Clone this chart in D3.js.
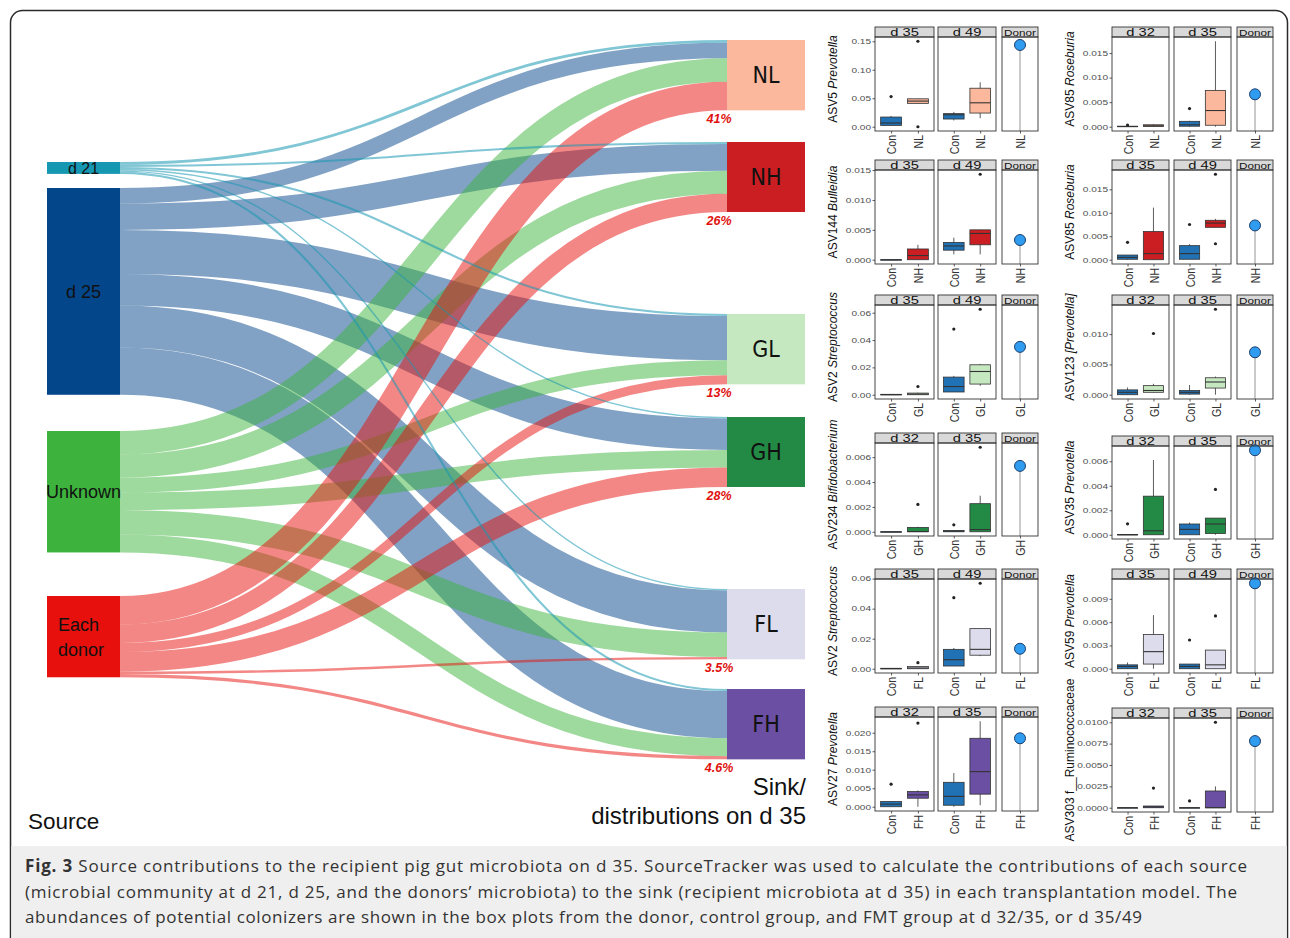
<!DOCTYPE html>
<html>
<head>
<meta charset="utf-8">
<script src="https://cdn.jsdelivr.net/npm/d3@7"></script>
<style>
  html, body { margin: 0; padding: 0; background: #fff; }
  svg { display: block; }
</style>
</head>
<body>
<svg id="fig" width="1290" height="938"></svg>
<script>
// ---------- Sankey: share (%) of each sink community contributed by each source ----------
const sources = ["d 21", "d 25", "Unknown", "Each donor"];
const sourceLabelLines = [["d 21"], ["d 25"], ["Unknown"], ["Each", "donor"]];
const sinks = ["NL", "NH", "GL", "GH", "FL", "FH"];
const sourceColors = ["#1798b2", "#03468a", "#3db33d", "#e8100c"];
const sinkColors = ["#fbb89c", "#cb1e22", "#c6e8c0", "#238a46", "#dcdcec", "#6a4fa3"];
const conColor = "#2171b5";

// columns follow the sink order NL, NH, GL, GH, FL, FH
const fromD21 = [4, 3, 3, 2, 2, 3];
const fromD25 = [22, 38, 63, 45, 60, 67.4];
const fromUnknown = [33.5, 33, 21.5, 25, 35, 25.5];
const fromDonor = [41, 26, 13, 28, 3.5, 4.6];
const contributions = [fromD21, fromD25, fromUnknown, fromDonor];

// ---------- Box plots of candidate colonizers ----------
// each box: [lower whisker, Q1, median, Q3, upper whisker, [outliers]]
const asv5NL = {
  label: "ASV5 ", taxon: "Prevotella", italic: true, group: "NL", days: ["d 35", "d 49"],
  ticks: [0, 0.05, 0.10, 0.15], format: ".2f",
  con: [[0.002, 0.0023, 0.0065, 0.017, 0.019, [0.053]], [0.011, 0.0135, 0.021, 0.023, 0.026, []]],
  fmt: [[0.041, 0.041, 0.045, 0.049, 0.049, [0.15, 0]], [0.015, 0.024, 0.042, 0.0676, 0.078, []]],
  donor: 0.1435
};
const asv85NL = {
  label: "ASV85 ", taxon: "Roseburia", italic: true, group: "NL", days: ["d 32", "d 35"],
  ticks: [0, 0.005, 0.010, 0.015], format: ".3f",
  con: [[0, 0, 0.00005, 0.0001, 0.0002, [0.00035]], [0, 0.0001, 0.0004, 0.0011, 0.0012, [0.0037]]],
  fmt: [[0, 0.00005, 0.0002, 0.0004, 0.0005, []], [0, 0.0003, 0.0033, 0.0074, 0.0174, []]],
  donor: 0.0066
};
const asv144NH = {
  label: "ASV144 ", taxon: "Bulleidia", italic: true, group: "NH", days: ["d 35", "d 49"],
  ticks: [0, 0.005, 0.010, 0.015], format: ".3f",
  con: [[0, 0, 0, 0, 0, []], [0.0009, 0.0016, 0.0023, 0.0029, 0.0037, []]],
  fmt: [[0, 0, 0.0007, 0.0018, 0.0025, []], [0.0009, 0.0025, 0.0044, 0.005, 0.005, [0.0143]]],
  donor: 0.0033
};
const asv85NH = {
  label: "ASV85 ", taxon: "Roseburia", italic: true, group: "NH", days: ["d 35", "d 49"],
  ticks: [0, 0.005, 0.010, 0.015], format: ".3f",
  con: [[0, 0.0001, 0.0005, 0.001, 0.001, [0.0037]], [0.0001, 0.0001, 0.0013, 0.003, 0.0033, [0.0075]]],
  fmt: [[0, 0, 0.0013, 0.006, 0.0111, []], [0.0069, 0.0069, 0.0078, 0.0084, 0.0087, [0.0182, 0.0034]]],
  donor: 0.0073
};
const asv2GL = {
  label: "ASV2 ", taxon: "Streptococcus", italic: true, group: "GL", days: ["d 35", "d 49"],
  ticks: [0, 0.02, 0.04, 0.06], format: ".2f",
  con: [[0, 0, 0, 0.0003, 0.0003, []], [0.002, 0.002, 0.006, 0.0129, 0.0138, [0.048]]],
  fmt: [[0, 0, 0.0005, 0.0012, 0.0015, [0.006]], [0.0065, 0.0078, 0.017, 0.0219, 0.0225, [0.0625]]],
  donor: 0.035
};
const asv123GL = {
  label: "ASV123 ", taxon: "[Prevotella]", italic: true, group: "GL", days: ["d 32", "d 35"],
  ticks: [0, 0.005, 0.010], format: ".3f",
  con: [[0, 0, 0.0004, 0.0008, 0.0012, []], [0, 0.0001, 0.0004, 0.0007, 0.0016, []]],
  fmt: [[0.0004, 0.0004, 0.0007, 0.0015, 0.0018, [0.0101]], [0, 0.0011, 0.0021, 0.0028, 0.003, [0.0141]]],
  donor: 0.007
};
const asv234GH = {
  label: "ASV234 ", taxon: "Bifidobacterium", italic: true, group: "GH", days: ["d 32", "d 35"],
  ticks: [0, 0.002, 0.004, 0.006], format: ".3f",
  con: [[0, 0, 0, 0, 0, []], [0, 0, 0.00005, 0.0001, 0.0001, [0.00056]]],
  fmt: [[0, 0, 0.00002, 0.00035, 0.0004, [0.0022]], [0, 0, 0.00018, 0.00226, 0.0029, [0.0068]]],
  donor: 0.0053
};
const asv35GH = {
  label: "ASV35 ", taxon: "Prevotella", italic: true, group: "GH", days: ["d 32", "d 35"],
  ticks: [0, 0.002, 0.004, 0.006], format: ".3f",
  con: [[0, 0, 0, 0.00003, 0.00005, [0.00089]], [0, 0, 0.00044, 0.00088, 0.001, []]],
  fmt: [[0, 0, 0.00033, 0.00315, 0.0061, []], [0, 0.0001, 0.00088, 0.00136, 0.00136, [0.0037]]],
  donor: 0.0069
};
const asv2FL = {
  label: "ASV2 ", taxon: "Streptococcus", italic: true, group: "FL", days: ["d 35", "d 49"],
  ticks: [0, 0.02, 0.04, 0.06], format: ".2f",
  con: [[0, 0, 0, 0.0003, 0.0003, []], [0.0018, 0.0018, 0.006, 0.0129, 0.0138, [0.0473]]],
  fmt: [[0, 0, 0.0005, 0.0015, 0.0015, [0.004]], [0.0084, 0.009, 0.0129, 0.0267, 0.0267, [0.0569]]],
  donor: 0.0133
};
const asv59FL = {
  label: "ASV59 ", taxon: "Prevotella", italic: true, group: "FL", days: ["d 35", "d 49"],
  ticks: [0, 0.003, 0.006, 0.009], format: ".3f",
  con: [[0, 0, 0.0003, 0.0005, 0.0008, []], [0, 0, 0.0003, 0.0006, 0.0006, [0.0037]]],
  fmt: [[0, 0.0006, 0.0022, 0.0044, 0.0069, []], [0, 0, 0.0005, 0.0024, 0.0024, [0.0068]]],
  donor: 0.011
};
const asv27FH = {
  label: "ASV27 ", taxon: "Prevotella", italic: true, group: "FH", days: ["d 32", "d 35"],
  ticks: [0, 0.005, 0.010, 0.015, 0.020], format: ".3f",
  con: [[0, 0, 0.0007, 0.0014, 0.0014, [0.0061]], [0, 0.0004, 0.0028, 0.0066, 0.0091, []]],
  fmt: [[0, 0.0023, 0.0032, 0.0041, 0.0044, [0.0226]], [0.0004, 0.0034, 0.0095, 0.0185, 0.0231, []]],
  donor: 0.0185
};
const asv303FH = {
  label: "ASV303 ", taxon: "f__Ruminococcaceae", italic: false, group: "FH", days: ["d 32", "d 35"],
  ticks: [0, 0.0025, 0.0050, 0.0075, 0.0100], format: ".4f",
  con: [[0, 0, 0, 0, 0, []], [0, 0, 0, 0, 0, [0.0008]]],
  fmt: [[0, 0, 0.0001, 0.0002, 0.0002, [0.0023]], [0, 0, 0, 0.00196, 0.0025, [0.01]]],
  donor: 0.0078
};
const panels = [asv5NL, asv85NL, asv144NH, asv85NH, asv2GL, asv123GL,
                asv234GH, asv35GH, asv2FL, asv59FL, asv27FH, asv303FH];

const captionLines = [
  ["Fig. 3", " Source contributions to the recipient pig gut microbiota on d 35. SourceTracker was used to calculate the contributions of each source"],
  ["", "(microbial community at d 21, d 25, and the donors\u2019 microbiota) to the sink (recipient microbiota at d 35) in each transplantation model. The"],
  ["", "abundances of potential colonizers are shown in the box plots from the donor, control group, and FMT group at d 32/35, or d 35/49"]
];

// ---------- drawing ----------
const svg = d3.select("#fig");
const SANS = "'Liberation Sans', Arial, sans-serif";
const NARROW = "'Liberation Sans Narrow', 'DejaVu Sans Condensed', 'Liberation Sans', sans-serif";
const WIDEN = 1.4; // box-plot lettering is set wide

// figure frame and caption band
svg.append("rect").attr("x", 10.5).attr("y", 10.5).attr("width", 1277).attr("height", 960)
  .attr("rx", 12).attr("fill", "#fff").attr("stroke", "#2a2a2a").attr("stroke-width", 1.5);
svg.append("rect").attr("x", 11.3).attr("y", 846).attr("width", 1275.4).attr("height", 100)
  .attr("fill", "#efefef");

// ----- Sankey -----
const flow = d3.scaleLinear().domain([0, 100]).range([0, 70]);
const srcX = [47, 120];
const sinkX = [727, 805];
const srcTop = [162, 188, 431, 596];
const sinkTop = [40, 142, 314, 417, 589, 689];

const links = [];
contributions.forEach((row, i) => {
  let srcOff = 0;
  row.forEach((v, j) => {
    const sinkOff = d3.sum(contributions.slice(0, i), r => r[j]);
    links.push({
      i, j, v,
      source: [srcX[1], srcTop[i] + flow(srcOff + v / 2)],
      target: [sinkX[0], sinkTop[j] + flow(sinkOff + v / 2)]
    });
    srcOff += v;
  });
});

const linkGen = d3.linkHorizontal();
const drawOrder = [1, 2, 3, 0];
const gLinks = svg.append("g").attr("fill", "none");
drawOrder.forEach(i => {
  gLinks.selectAll(null).data(links.filter(l => l.i === i)).join("path")
    .attr("d", d => linkGen(d))
    .attr("stroke", sourceColors[i])
    .attr("stroke-opacity", i === 0 ? 0.55 : 0.5)
    .attr("stroke-width", d => Math.max(0.8, flow(d.v)));
});

// source nodes
sources.forEach((s, i) => {
  const h = flow(d3.sum(contributions[i]));
  svg.append("rect").attr("x", srcX[0]).attr("y", srcTop[i])
    .attr("width", srcX[1] - srcX[0]).attr("height", h).attr("fill", sourceColors[i]);
  const lines = sourceLabelLines[i];
  const cy = srcTop[i] + h / 2;
  const t = svg.append("text").attr("font-family", SANS).attr("font-size", i === 0 ? 16 : 18)
    .attr("fill", "#111");
  if (lines.length === 1) {
    t.attr("x", (srcX[0] + srcX[1]) / 2).attr("y", cy).attr("dy", "0.36em")
      .attr("text-anchor", "middle").text(lines[0]);
  } else {
    lines.forEach((ln, k) => {
      t.append("tspan").attr("x", 58).attr("y", cy + (k - (lines.length - 1) / 2) * 25)
        .attr("dy", "0.36em").text(ln);
    });
  }
});

// sink nodes, labels and donor share
sinks.forEach((s, j) => {
  const h = flow(d3.sum(contributions, r => r[j]));
  svg.append("rect").attr("x", sinkX[0]).attr("y", sinkTop[j])
    .attr("width", sinkX[1] - sinkX[0]).attr("height", h).attr("fill", sinkColors[j]);
  svg.append("text").attr("x", (sinkX[0] + sinkX[1]) / 2).attr("y", sinkTop[j] + h / 2)
    .attr("dy", "0.36em").attr("text-anchor", "middle")
    .attr("font-family", NARROW).attr("font-size", 23).attr("fill", "#111").text(s);
  svg.append("text").attr("x", sinkX[0] - 8).attr("y", sinkTop[j] + h + 13)
    .attr("text-anchor", "middle").attr("font-family", SANS).attr("font-size", 12.5)
    .attr("font-weight", "bold").attr("font-style", "italic").attr("fill", "#e0110e")
    .text(fromDonor[j] + "%");
});

svg.append("text").attr("x", 28).attr("y", 829).attr("font-family", SANS)
  .attr("font-size", 22.5).attr("fill", "#111").text("Source");
svg.append("text").attr("x", 806).attr("y", 795).attr("text-anchor", "end")
  .attr("font-family", SANS).attr("font-size", 24).attr("fill", "#111").text("Sink/");
svg.append("text").attr("x", 806).attr("y", 824).attr("text-anchor", "end")
  .attr("font-family", SANS).attr("font-size", 24).attr("fill", "#111").text("distributions on d 35");

// ----- box plot panels -----
const columns = [
  { facets: [[875, 934], [938, 996], [1002, 1038]], titleX: 833 },
  { facets: [[1112, 1169], [1174, 1231], [1237, 1273]], titleX: 1070 }
];
const rowStripTop = [27, 160, 295, 433, 569, 707];
const rowBottom = [131, 264, 399, 536, 673, 811];
const colRowShift = [[0, 0, 0, 0, 0, 0], [0, 0, 0, 3, 0, 1]];
const STRIP = 10;

function groupColor(g) { return sinkColors[sinks.indexOf(g)]; }

panels.forEach((p, k) => {
  const col = k % 2, row = Math.floor(k / 2);
  const C = columns[col];
  const sh = colRowShift[col][row];
  const stripTop = rowStripTop[row] + sh;
  const yTop = stripTop + STRIP;
  const yBot = rowBottom[row] + sh;
  const g = svg.append("g");

  const allVals = [p.donor];
  [...p.con, ...p.fmt].forEach(b => { allVals.push(b[0], b[4], ...b[5]); });
  const [lo, hi] = d3.extent(allVals);
  const pad = (hi - lo) * 0.05;
  const y = d3.scaleLinear().domain([lo - pad, hi + pad]).range([yBot, yTop]);

  // y axis
  const ya = g.append("g").attr("transform", `translate(${C.facets[0][0]},0)`)
    .call(d3.axisLeft(y).tickValues(p.ticks).tickSize(2.5).tickFormat(d3.format(p.format)));
  ya.select(".domain").remove();
  ya.selectAll("line").attr("stroke", "#333").attr("stroke-width", 0.8);
  ya.selectAll("text").attr("x", 0).attr("transform", `translate(-4,0) scale(${WIDEN},1)`)
    .attr("font-family", SANS).attr("font-size", 7.2).attr("fill", "#4d4d4d");

  // y title
  const tt = g.append("text")
    .attr("transform", `translate(${C.titleX},${(stripTop + yBot) / 2}) rotate(-90)`)
    .attr("text-anchor", "middle").attr("dy", "0.35em")
    .attr("font-family", SANS).attr("font-size", 12).attr("fill", "#111");
  tt.append("tspan").text(p.label);
  tt.append("tspan").attr("font-style", p.italic ? "italic" : "normal").text(p.taxon);

  const facetNames = [p.days[0], p.days[1], "Donor"];
  C.facets.forEach((f, fi) => {
    const cats = fi < 2 ? ["Con", p.group] : [p.group];
    const x = d3.scalePoint().domain(cats).range(f).padding(0.6);
    const bw = x.step() * 0.78;

    // panel and strip
    g.append("rect").attr("x", f[0]).attr("y", yTop).attr("width", f[1] - f[0])
      .attr("height", yBot - yTop).attr("fill", "#fff");
    g.append("rect").attr("x", f[0]).attr("y", stripTop).attr("width", f[1] - f[0])
      .attr("height", STRIP).attr("fill", "#d9d9d9").attr("stroke", "#333").attr("stroke-width", 0.9);
    g.append("text")
      .attr("transform", `translate(${(f[0] + f[1]) / 2},${stripTop + STRIP - 0.6}) scale(${fi < 2 ? WIDEN : 1.3},1)`)
      .attr("text-anchor", "middle").attr("font-family", SANS)
      .attr("font-size", fi < 2 ? 10.5 : 9).attr("fill", "#111").text(facetNames[fi]);

    if (fi < 2) {
      const boxes = [["Con", p.con[fi], conColor], [p.group, p.fmt[fi], groupColor(p.group)]];
      boxes.forEach(([cat, b, color]) => {
        const cx = x(cat);
        const [wl, q1, md, q3, wh, out] = b;
        g.append("line").attr("x1", cx).attr("x2", cx).attr("y1", y(wl)).attr("y2", y(wh))
          .attr("stroke", "#333").attr("stroke-width", 0.8);
        g.append("rect").attr("x", cx - bw / 2).attr("y", y(q3)).attr("width", bw)
          .attr("height", Math.max(0.5, y(q1) - y(q3))).attr("fill", color)
          .attr("stroke", "#333").attr("stroke-width", 0.8);
        g.append("line").attr("x1", cx - bw / 2).attr("x2", cx + bw / 2)
          .attr("y1", y(md)).attr("y2", y(md)).attr("stroke", "#333").attr("stroke-width", 1.1);
        g.selectAll(null).data(out).join("circle")
          .attr("cx", cx).attr("cy", d => y(d)).attr("r", 1.6).attr("fill", "#222");
      });
    } else {
      const cx = x(p.group);
      g.append("line").attr("x1", cx).attr("x2", cx).attr("y1", y(p.donor)).attr("y2", yBot)
        .attr("stroke", "#bdbdbd").attr("stroke-width", 1.6);
      g.append("circle").attr("cx", cx).attr("cy", y(p.donor)).attr("r", 5.5)
        .attr("fill", "#2f9cf0").attr("stroke", "#1d3f6e").attr("stroke-width", 1);
    }

    g.append("rect").attr("x", f[0]).attr("y", yTop).attr("width", f[1] - f[0])
      .attr("height", yBot - yTop).attr("fill", "none").attr("stroke", "#333").attr("stroke-width", 0.9);

    // x axis with rotated category labels
    const xa = g.append("g").attr("transform", `translate(0,${yBot})`)
      .call(d3.axisBottom(x).tickSize(2.5).tickSizeOuter(0));
    xa.select(".domain").remove();
    xa.selectAll("line").attr("stroke", "#333").attr("stroke-width", 0.8);
    xa.selectAll("text").attr("x", 0).attr("y", 0).attr("dy", "0.35em")
      .attr("transform", `translate(0,4) scale(1.3,1) rotate(-90)`)
      .attr("text-anchor", "end")
      .attr("font-family", SANS).attr("font-size", 10.5).attr("fill", "#333");
  });
});

// ----- caption -----
const capWidths = [1222, 1212, 1117];
captionLines.forEach((ln, i) => {
  const t = svg.append("text").attr("x", 25).attr("y", 872 + i * 25.5)
    .attr("font-family", "'Open Sans', 'Liberation Sans', sans-serif").attr("font-size", 17)
    .attr("fill", "#333").attr("textLength", capWidths[i]).attr("lengthAdjust", "spacing");
  if (ln[0]) t.append("tspan").attr("font-weight", "bold").text(ln[0]);
  t.append("tspan").text(ln[1]);
});
</script>
</body>
</html>
